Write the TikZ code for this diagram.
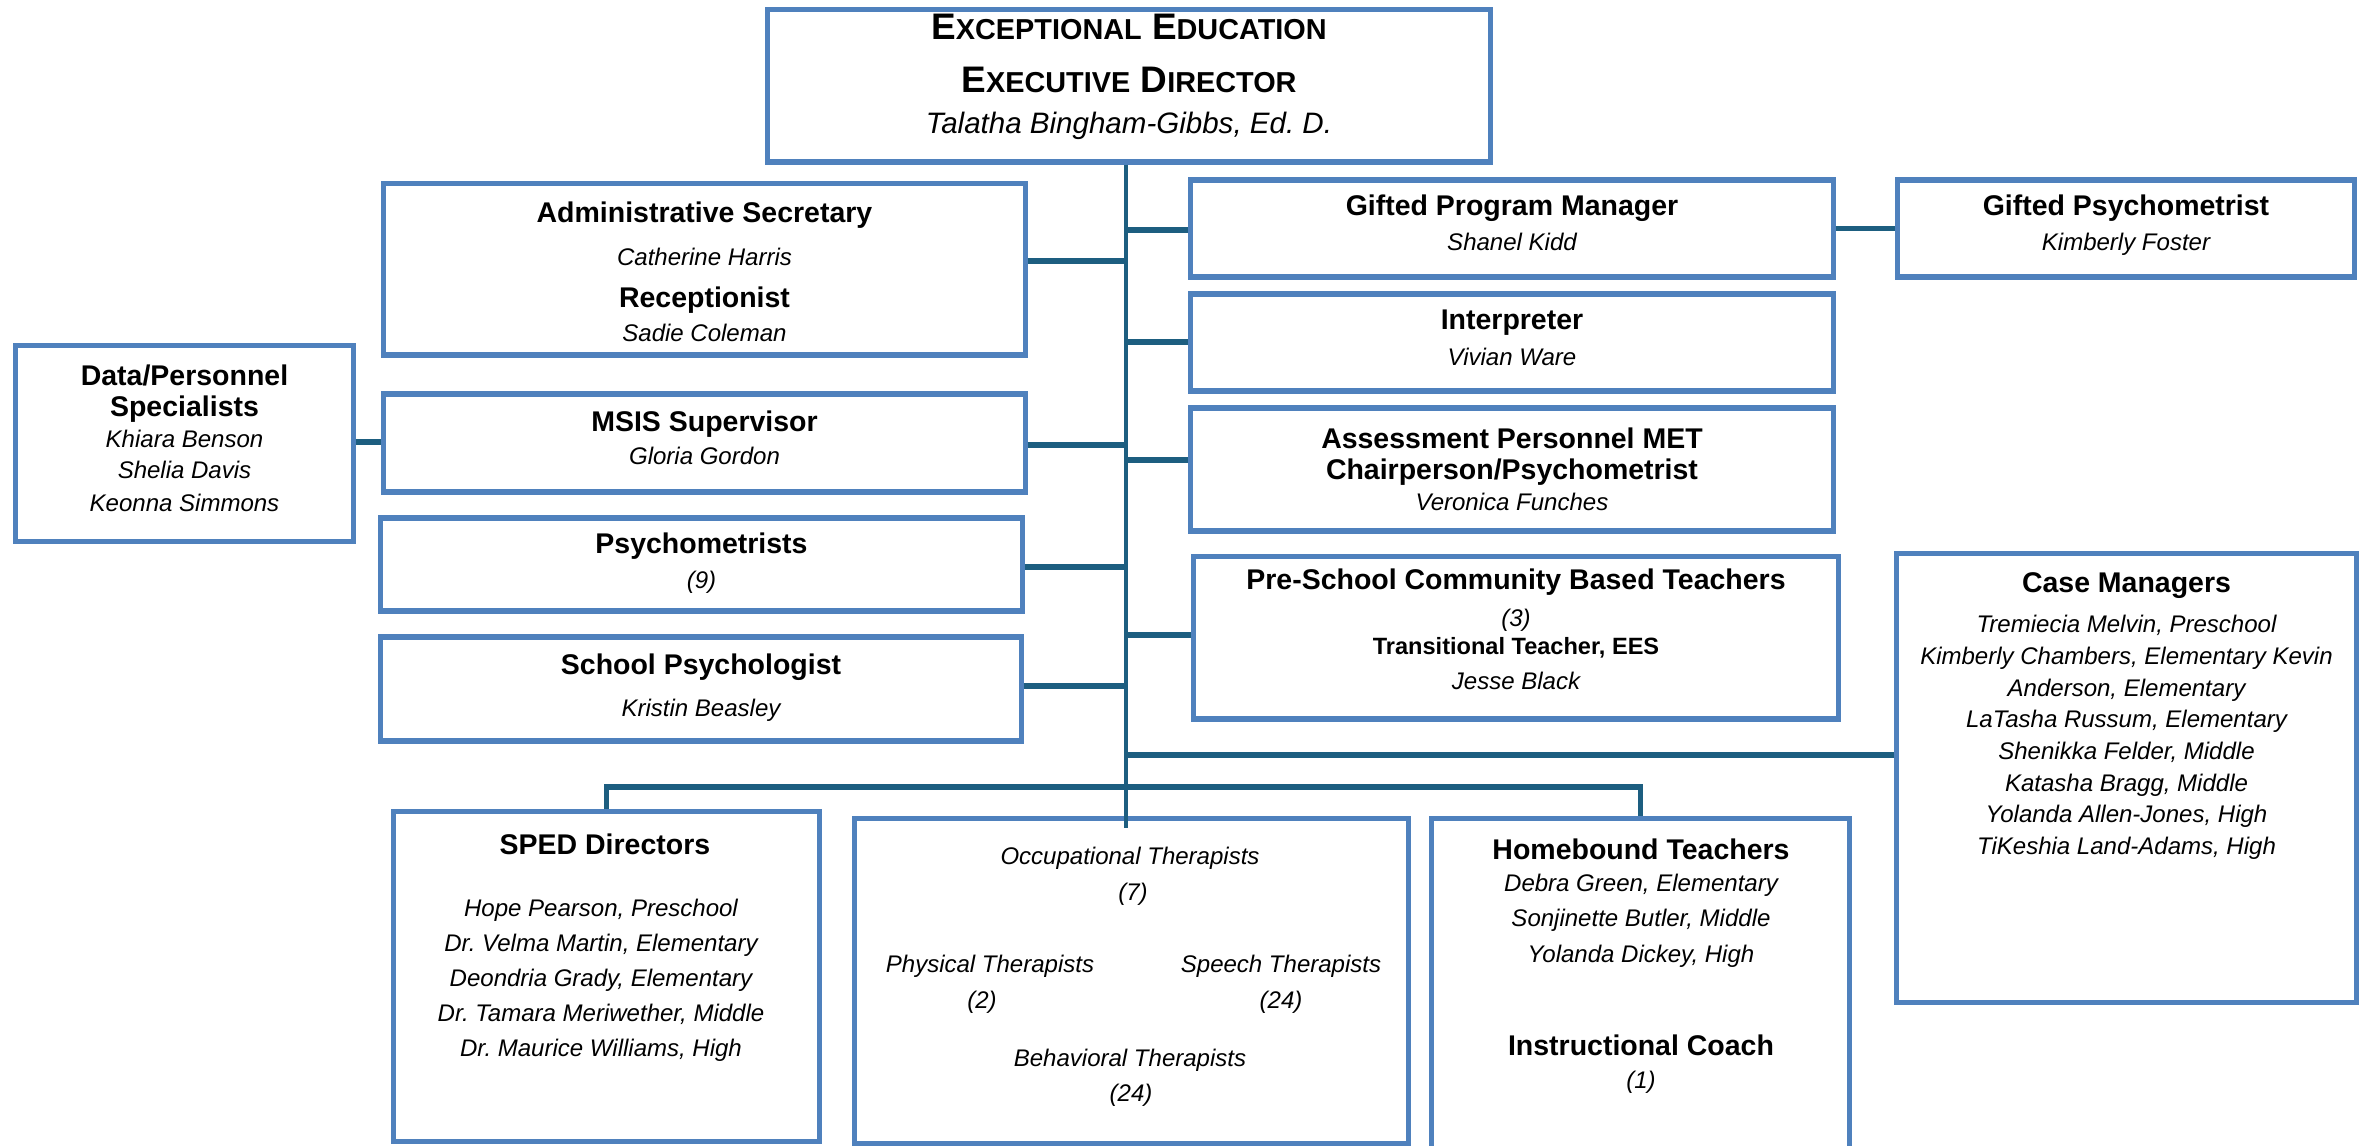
\documentclass[tikz,border=0pt]{standalone}
\usepackage{fontspec}
\setmainfont{Liberation Sans}
\frenchspacing
\definecolor{boxblue}{HTML}{4F81BD}
\definecolor{connblue}{HTML}{1D5E80}
\newcommand\ttlfont{\fontsize{8.1pt}{9pt}\selectfont\bfseries}
\newcommand\nmfont{\fontsize{6.83pt}{9pt}\selectfont\itshape}
\newcommand\subfont{\fontsize{6.7pt}{9pt}\selectfont\bfseries}
\newcommand\bigcapfont{\fontsize{10.5pt}{12pt}\selectfont\bfseries}
\newcommand\smcap[1]{{\fontsize{8.2pt}{9pt}\selectfont #1}}
\newcommand\topnmfont{\fontsize{8.4pt}{10pt}\selectfont\itshape}
\tikzset{
  orgbox/.style={draw=boxblue, line width=1.45pt, fill=white, inner sep=0pt, rectangle},
  conn/.style={draw=connblue, line width=1.45pt},
  trunkline/.style={draw=connblue, line width=1.2pt},
  lt/.style={anchor=base, inner sep=0pt, outer sep=0pt},
  ttl/.style={lt, font=\ttlfont},
  nm/.style={lt, font=\nmfont},
  sub/.style={lt, font=\subfont},
}
\begin{document}
\begin{tikzpicture}[x=0.01cm, y=-0.01cm]
\useasboundingbox (0,0) rectangle (2368,1146);
\fill[white] (0,0) rectangle (2368,1146);
\clip (0,0) rectangle (2368,1146);

% boxes
\node[orgbox, minimum width=7.22cm, minimum height=1.52cm] (top) at (1129,86) {};
\node[orgbox, minimum width=6.41cm, minimum height=1.71cm] (admin) at (704.5,269.5) {};
\node[orgbox, minimum width=3.37cm, minimum height=1.95cm] (data) at (184.5,443.5) {};
\node[orgbox, minimum width=6.41cm, minimum height=0.98cm] (msis) at (704.5,443) {};
\node[orgbox, minimum width=6.41cm, minimum height=0.93cm] (psych) at (701.5,564.5) {};
\node[orgbox, minimum width=6.40cm, minimum height=1.04cm] (schpsy) at (701,689) {};
\node[orgbox, minimum width=6.42cm, minimum height=0.97cm] (gpm) at (1512,228.5) {};
\node[orgbox, minimum width=4.56cm, minimum height=0.97cm] (gpsy) at (2126,228.5) {};
\node[orgbox, minimum width=6.42cm, minimum height=0.97cm] (interp) at (1512,342.5) {};
\node[orgbox, minimum width=6.42cm, minimum height=1.23cm] (assess) at (1512,469.5) {};
\node[orgbox, minimum width=6.44cm, minimum height=1.62cm] (presch) at (1516,638) {};
\node[orgbox, minimum width=4.59cm, minimum height=4.48cm] (case) at (2126.5,778) {};
\node[orgbox, minimum width=4.25cm, minimum height=3.29cm] (sped) at (606.5,976.5) {};
\node[orgbox, minimum width=5.53cm, minimum height=3.24cm] (ther) at (1131.5,981) {};
\node[orgbox, minimum width=4.17cm, minimum height=3.51cm] (home) at (1640.5,994.5) {};

% connectors
\coordinate (tk) at (1126,0);
\coordinate (tkend) at (1126,828);
\draw[trunkline] (tk |- top.south) -- (tkend);
\draw[conn] (admin.east |- 0,261) -- (tk |- 0,261);
\draw[conn] (msis.east |- 0,445) -- (tk |- 0,445);
\draw[conn] (psych.east |- 0,567) -- (tk |- 0,567);
\draw[conn] (schpsy.east |- 0,686) -- (tk |- 0,686);
\draw[conn] (gpm.west |- 0,230) -- (tk |- 0,230);
\draw[conn] (interp.west |- 0,342) -- (tk |- 0,342);
\draw[conn] (assess.west |- 0,460) -- (tk |- 0,460);
\draw[conn] (presch.west |- 0,635) -- (tk |- 0,635);
\draw[conn] (case.west |- 0,755) -- (tk |- 0,755);
\draw[conn] (gpm.east) -- (gpsy.west);
\draw[conn] (data.east |- 0,442) -- (msis.west |- 0,442);
\draw[conn] (sped.north) -- (sped.north |- 0,787) -- (home.north |- 0,787) -- (home.north);

% top box text
\node[lt, font=\bigcapfont] (top-l1) at (1129,40) {E\smcap{XCEPTIONAL} E\smcap{DUCATION}};
\node[lt, font=\bigcapfont] (top-l2) at (1129,93) {E\smcap{XECUTIVE} D\smcap{IRECTOR}};
\node[lt, font=\topnmfont] (top-l3) at (1129,134) {Talatha Bingham-Gibbs, Ed. D.};

% admin
\node[ttl] (admin-l1) at (704.5,223) {Administrative Secretary};
\node[nm]  (admin-l2) at (704.5,266) {Catherine Harris};
\node[ttl] (admin-l3) at (704.5,308) {Receptionist};
\node[nm]  (admin-l4) at (704.5,342) {Sadie Coleman};

% data
\node[ttl] (data-l1) at (184.5,386) {Data/Personnel};
\node[ttl] (data-l2) at (184.5,417) {Specialists};
\node[nm]  (data-l3) at (184.5,448) {Khiara Benson};
\node[nm]  (data-l4) at (184.5,479) {Shelia Davis};
\node[nm]  (data-l5) at (184.5,512) {Keonna Simmons};

% msis
\node[ttl] (msis-l1) at (704.5,432) {MSIS Supervisor};
\node[nm]  (msis-l2) at (704.5,465) {Gloria Gordon};

% psychometrists
\node[ttl] (psych-l1) at (701.5,554) {Psychometrists};
\node[nm]  (psych-l2) at (701.5,589) {(9)};

% school psychologist
\node[ttl] (schpsy-l1) at (701,675) {School Psychologist};
\node[nm]  (schpsy-l2) at (701,717) {Kristin Beasley};

% gifted program manager
\node[ttl] (gpm-l1) at (1512,216) {Gifted Program Manager};
\node[nm]  (gpm-l2) at (1512,251) {Shanel Kidd};

% gifted psychometrist
\node[ttl] (gpsy-l1) at (2126,216) {Gifted Psychometrist};
\node[nm]  (gpsy-l2) at (2126,251) {Kimberly Foster};

% interpreter
\node[ttl] (interp-l1) at (1512,330) {Interpreter};
\node[nm]  (interp-l2) at (1512,366) {Vivian Ware};

% assessment
\node[ttl] (assess-l1) at (1512,449) {Assessment Personnel MET};
\node[ttl] (assess-l2) at (1512,480) {Chairperson/Psychometrist};
\node[nm]  (assess-l3) at (1512,511) {Veronica Funches};

% pre-school
\node[ttl] (presch-l1) at (1516,590) {Pre-School Community Based Teachers};
\node[nm]  (presch-l2) at (1516,627) {(3)};
\node[sub] (presch-l3) at (1516,655) {Transitional Teacher, EES};
\node[nm]  (presch-l4) at (1516,690) {Jesse Black};

% case managers
\node[ttl] (case-l1) at (2126.5,593) {Case Managers};
\node[nm]  (case-l2) at (2126.5,633) {Tremiecia Melvin, Preschool};
\node[nm]  (case-l3) at (2126.5,665) {Kimberly Chambers, Elementary Kevin};
\node[nm]  (case-l4) at (2126.5,697) {Anderson, Elementary};
\node[nm]  (case-l5) at (2126.5,728) {LaTasha Russum, Elementary};
\node[nm]  (case-l6) at (2126.5,760) {Shenikka Felder, Middle};
\node[nm]  (case-l7) at (2126.5,792) {Katasha Bragg, Middle};
\node[nm]  (case-l8) at (2126.5,823) {Yolanda Allen-Jones, High};
\node[nm]  (case-l9) at (2126.5,855) {TiKeshia Land-Adams, High};

% SPED
\node[ttl] (sped-l1) at (605,855) {SPED Directors};
\node[nm]  (sped-l2) at (601,917) {Hope Pearson, Preschool};
\node[nm]  (sped-l3) at (601,952) {Dr. Velma Martin, Elementary};
\node[nm]  (sped-l4) at (601,987) {Deondria Grady, Elementary};
\node[nm]  (sped-l5) at (601,1022) {Dr. Tamara Meriwether, Middle};
\node[nm]  (sped-l6) at (601,1057) {Dr. Maurice Williams, High};

% therapists
\node[nm] (ther-l1) at (1130,865) {Occupational Therapists};
\node[nm] (ther-l2) at (1133,901) {(7)};
\node[nm] (ther-l3) at (990,972) {Physical Therapists};
\node[nm] (ther-l4) at (982,1009) {(2)};
\node[nm] (ther-l5) at (1281,972) {Speech Therapists};
\node[nm] (ther-l6) at (1281,1009) {(24)};
\node[nm] (ther-l7) at (1130,1067) {Behavioral Therapists};
\node[nm] (ther-l8) at (1131,1102) {(24)};

% homebound
\node[ttl] (home-l1) at (1641,860) {Homebound Teachers};
\node[nm]  (home-l2) at (1641,892) {Debra Green, Elementary};
\node[nm]  (home-l3) at (1641,927) {Sonjinette Butler, Middle};
\node[nm]  (home-l4) at (1641,962) {Yolanda Dickey, High};
\node[ttl] (home-l5) at (1641,1055) {Instructional Coach};
\node[nm]  (home-l6) at (1641,1088) {(1)};
\end{tikzpicture}
\end{document}
